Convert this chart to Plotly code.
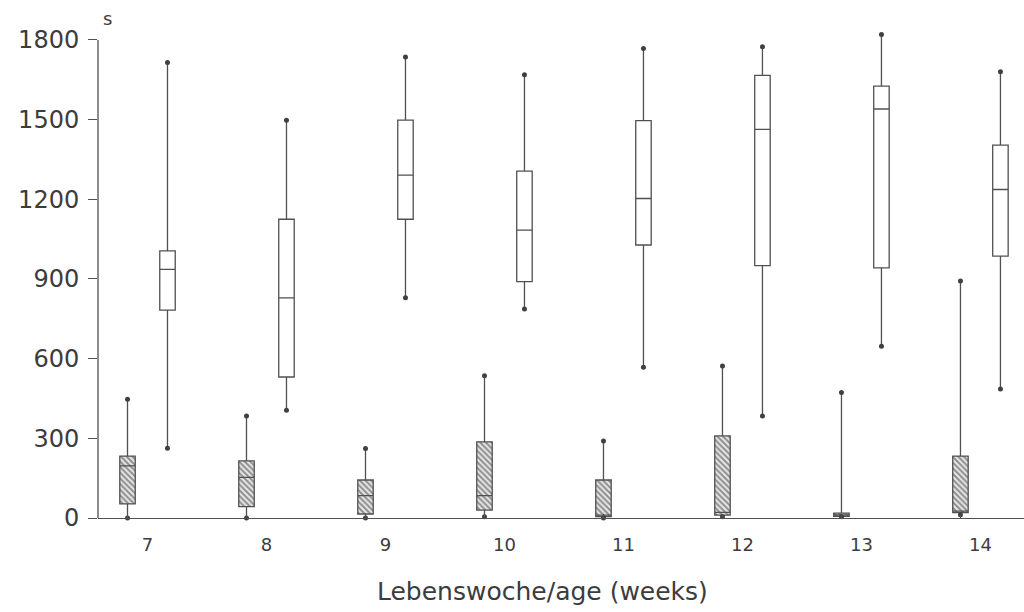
import plotly.graph_objects as go

# Weeks of age
weeks = [7, 8, 9, 10, 11, 12, 13, 14]

# Hatched series (lower durations), seconds
hatch_min = [0, 0, 0, 5, 0, 5, 5, 12]
hatch_q1 = [53, 43, 15, 30, 5, 11, 6, 20]
hatch_median = [196, 153, 84, 84, 11, 21, 12, 26]
hatch_q3 = [233, 215, 143, 287, 143, 309, 18, 233]
hatch_max = [447, 384, 262, 536, 290, 572, 473, 892]

# Open series (higher durations), seconds
open_min = [263, 406, 829, 787, 568, 384, 647, 486]
open_q1 = [783, 531, 1125, 890, 1028, 950, 942, 986]
open_median = [936, 829, 1291, 1084, 1203, 1463, 1540, 1237]
open_q3 = [1006, 1125, 1498, 1306, 1496, 1667, 1626, 1404]
open_max = [1715, 1498, 1736, 1669, 1768, 1774, 1821, 1680]

y_ticks = [0, 300, 600, 900, 1200, 1500, 1800]
x_title = "Lebenswoche/age (weeks)"

OFFSET = 0.168
BOX_W = 0.13
LINE = "#505050"
TEXT = "#3c3c3c"
FONT = "DejaVu Sans"

x_hatch = [w - OFFSET for w in weeks]
x_open = [w + OFFSET for w in weeks]

fig = go.Figure()

# hatched fill of the lower boxes
fig.add_trace(go.Bar(
    x=x_hatch,
    y=[q3 - q1 for q1, q3 in zip(hatch_q1, hatch_q3)],
    base=hatch_q1,
    width=BOX_W,
    marker=dict(
        color="white",
        line=dict(width=0),
        pattern=dict(shape="\\", fgcolor="#333333", bgcolor="#e8e8e8",
                     size=4, solidity=0.5),
    ),
    hoverinfo="skip",
    showlegend=False,
))

box_style = dict(width=BOX_W, whiskerwidth=0, boxpoints=False,
                 line=dict(color=LINE, width=1.3), showlegend=False)

fig.add_trace(go.Box(
    x=x_hatch, q1=hatch_q1, median=hatch_median, q3=hatch_q3,
    lowerfence=hatch_min, upperfence=hatch_max,
    fillcolor="rgba(0,0,0,0)", **box_style,
))
fig.add_trace(go.Box(
    x=x_open, q1=open_q1, median=open_median, q3=open_q3,
    lowerfence=open_min, upperfence=open_max,
    fillcolor="white", **box_style,
))

# dots at whisker ends
fig.add_trace(go.Scatter(
    x=x_hatch + x_hatch + x_open + x_open,
    y=hatch_min + hatch_max + open_min + open_max,
    mode="markers",
    marker=dict(color="#404040", size=5),
    cliponaxis=False,
    hoverinfo="skip",
    showlegend=False,
))

# left axis line stops at the top tick
fig.add_shape(type="line", xref="paper", yref="y",
              x0=0, x1=0, y0=0, y1=1800,
              line=dict(color=LINE, width=1.3))

fig.add_annotation(text="s", xref="paper", yref="paper",
                   x=0.003, y=1.027, xanchor="left", yanchor="middle",
                   showarrow=False, font=dict(family=FONT, size=18, color=TEXT))

# axis title
fig.add_annotation(text=x_title, xref="paper", yref="paper",
                   x=0.4795, y=-0.152, xanchor="center", yanchor="middle",
                   showarrow=False, font=dict(family=FONT, size=25, color=TEXT))

fig.update_layout(
    width=1024, height=612,
    margin=dict(l=98, r=0, t=32, b=94),
    paper_bgcolor="white", plot_bgcolor="white",
    boxmode="overlay", barmode="overlay",
    font=dict(family=FONT, color=TEXT),
    xaxis=dict(
        range=[6.584, 14.366],
        tickvals=weeks, ticktext=[str(w) for w in weeks],
        ticks="", showgrid=False, zeroline=False,
        showline=True, linecolor=LINE, linewidth=1.3,
        tickfont=dict(size=18, color=TEXT),
        ticklabelstandoff=10,
        minor=dict(tickvals=x_hatch, ticks="inside", ticklen=4,
                   tickcolor=LINE, showgrid=False),
    ),
    yaxis=dict(
        range=[0, 1830],
        tickvals=y_ticks,
        ticks="outside", ticklen=9, tickcolor=LINE, tickwidth=1.3,
        showgrid=False, zeroline=False, showline=False,
        tickfont=dict(size=24, color=TEXT),
        ticklabelstandoff=4,
    ),
)

fig.write_html("out.html")
